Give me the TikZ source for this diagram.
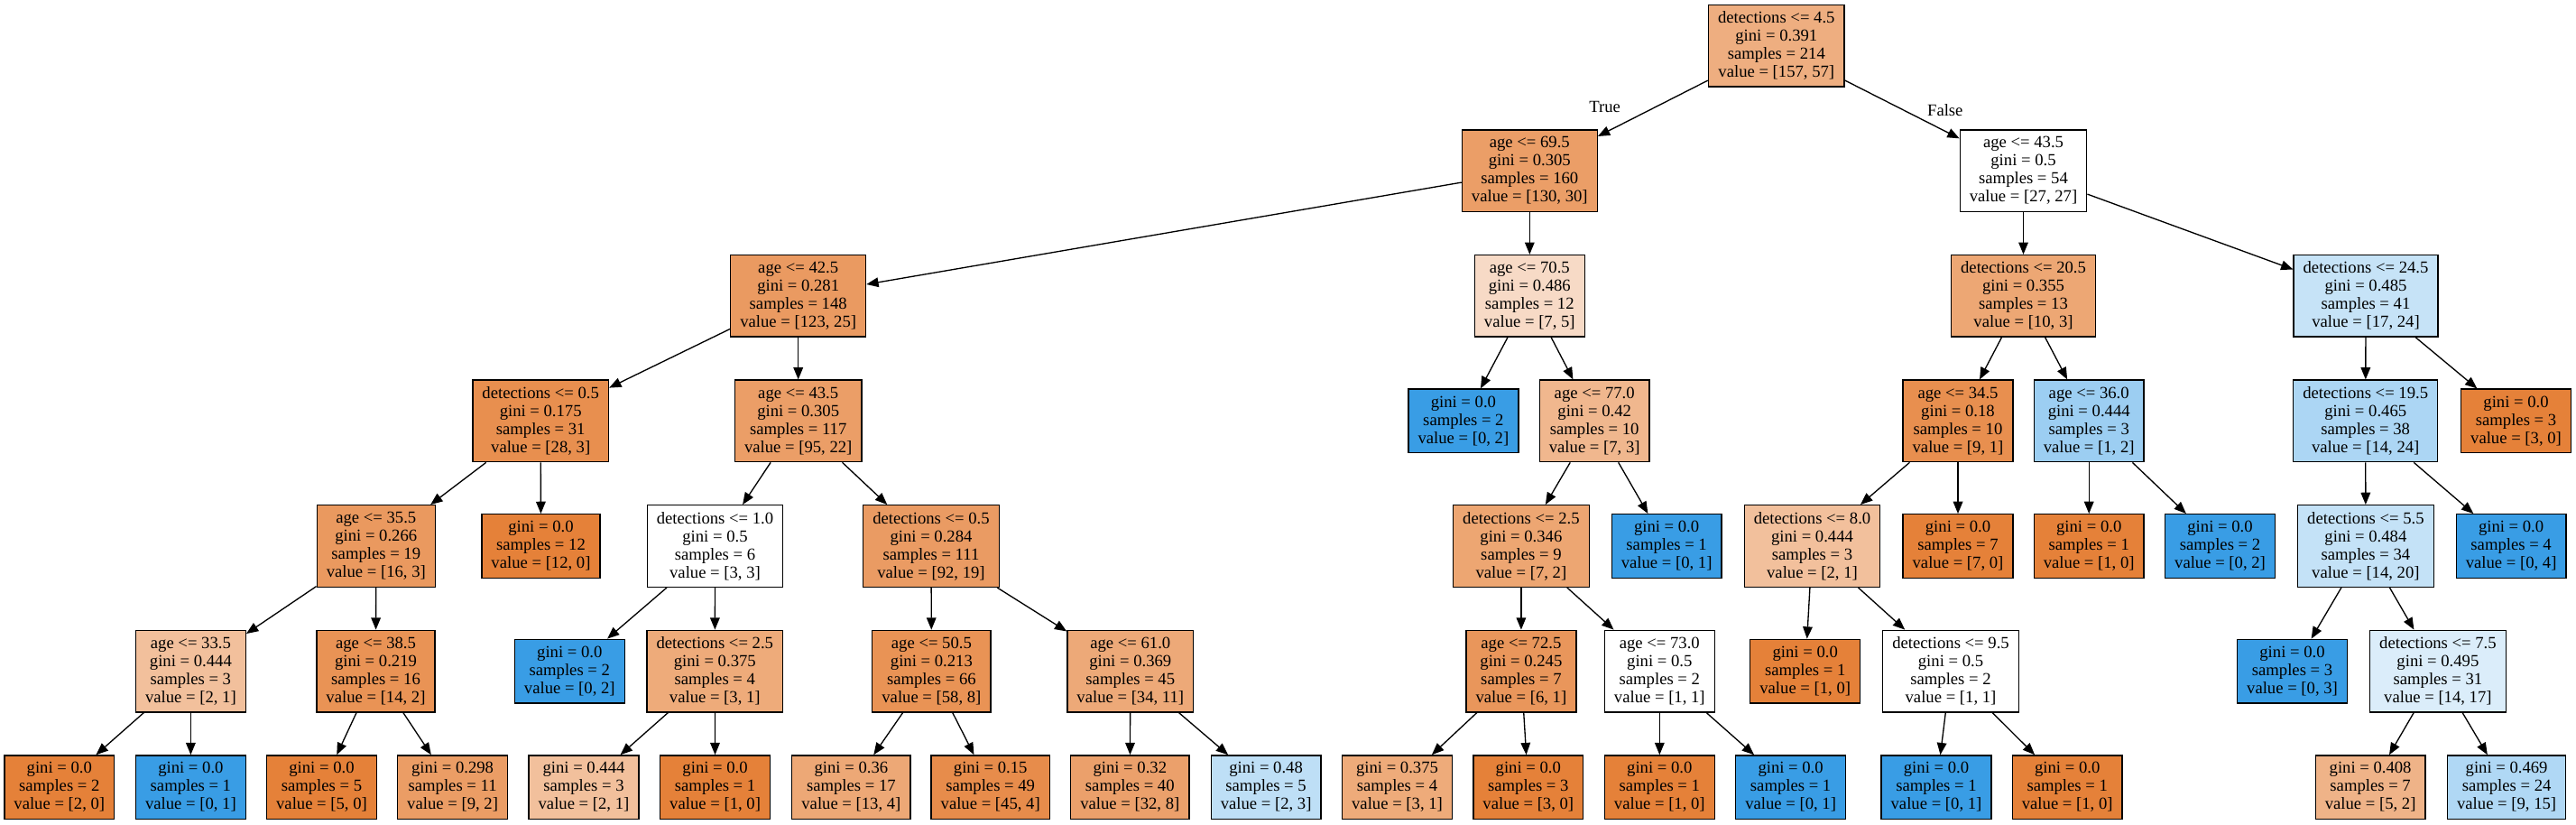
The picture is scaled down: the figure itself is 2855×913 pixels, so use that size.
\documentclass[tikz,border=0pt]{standalone}
\usepackage{fontspec}
\setmainfont{Liberation Serif}
\usetikzlibrary{arrows.meta}
\definecolor{orC}{RGB}{229,129,57}
\definecolor{blC}{RGB}{57,157,229}
\begin{document}
\begin{tikzpicture}[x=1pt,y=-1pt,
  tnode/.style={draw=black, line width=1.33pt, rectangle, align=center,
    inner xsep=10.56pt, inner ysep=0pt, font=\fontsize{18.67}{20}\selectfont},
  split/.style={tnode, minimum height=90.6pt},
  leaf/.style={tnode, minimum height=70.6pt},
  conn/.style={line width=1.33pt, -{Triangle[length=13.3pt,width=10.6pt]}},
  lbl/.style={font=\fontsize{18.67}{20}\selectfont, inner sep=0pt}
]
\fill[white] (0,0) rectangle (2855,913);
\useasboundingbox (0,0) rectangle (2855,913);
% level 0
\node[split, fill=orC!64!white] (n0) at (1968.8,50.6) {detections <= 4.5\\gini = 0.391\\samples = 214\\value = [157, 57]};
% level 1
\node[split, fill=orC!77!white] (n1) at (1695.3,189.2) {age <= 69.5\\gini = 0.305\\samples = 160\\value = [130, 30]};
\node[split, fill=white] (n2) at (2242.5,189.2) {age <= 43.5\\gini = 0.5\\samples = 54\\value = [27, 27]};
% level 2
\node[split, fill=orC!80!white] (n3) at (884.7,327.8) {age <= 42.5\\gini = 0.281\\samples = 148\\value = [123, 25]};
\node[split, fill=orC!29!white] (n4) at (1695.3,327.8) {age <= 70.5\\gini = 0.486\\samples = 12\\value = [7, 5]};
\node[split, fill=orC!70!white] (n5) at (2242.5,327.8) {detections <= 20.5\\gini = 0.355\\samples = 13\\value = [10, 3]};
\node[split, fill=blC!29!white] (n6) at (2622,327.8) {detections <= 24.5\\gini = 0.485\\samples = 41\\value = [17, 24]};
% level 3
\node[split, fill=orC!89!white] (n7) at (599.2,466.4) {detections <= 0.5\\gini = 0.175\\samples = 31\\value = [28, 3]};
\node[split, fill=orC!77!white] (n8) at (884.7,466.4) {age <= 43.5\\gini = 0.305\\samples = 117\\value = [95, 22]};
\node[leaf, fill=blC] (n9) at (1621.9,466.4) {gini = 0.0\\samples = 2\\value = [0, 2]};
\node[split, fill=orC!57!white] (n10) at (1767.2,466.4) {age <= 77.0\\gini = 0.42\\samples = 10\\value = [7, 3]};
\node[split, fill=orC!89!white] (n11) at (2170,466.4) {age <= 34.5\\gini = 0.18\\samples = 10\\value = [9, 1]};
\node[split, fill=blC!50!white] (n12) at (2315.2,466.4) {age <= 36.0\\gini = 0.444\\samples = 3\\value = [1, 2]};
\node[split, fill=blC!42!white] (n13) at (2621.7,466.4) {detections <= 19.5\\gini = 0.465\\samples = 38\\value = [14, 24]};
\node[leaf, fill=orC] (n14) at (2788.5,466.4) {gini = 0.0\\samples = 3\\value = [3, 0]};
% level 4
\node[split, fill=orC!81!white] (n15) at (416.8,605) {age <= 35.5\\gini = 0.266\\samples = 19\\value = [16, 3]};
\node[leaf, fill=orC] (n16) at (599.5,605) {gini = 0.0\\samples = 12\\value = [12, 0]};
\node[split, fill=white] (n17) at (792.5,605) {detections <= 1.0\\gini = 0.5\\samples = 6\\value = [3, 3]};
\node[split, fill=orC!79!white] (n18) at (1032,605) {detections <= 0.5\\gini = 0.284\\samples = 111\\value = [92, 19]};
\node[split, fill=orC!71!white] (n19) at (1685.9,605) {detections <= 2.5\\gini = 0.346\\samples = 9\\value = [7, 2]};
\node[leaf, fill=blC] (n20) at (1847.1,605) {gini = 0.0\\samples = 1\\value = [0, 1]};
\node[split, fill=orC!50!white] (n21) at (2008.5,605) {detections <= 8.0\\gini = 0.444\\samples = 3\\value = [2, 1]};
\node[leaf, fill=orC] (n22) at (2170,605) {gini = 0.0\\samples = 7\\value = [7, 0]};
\node[leaf, fill=orC] (n23) at (2315.2,605) {gini = 0.0\\samples = 1\\value = [1, 0]};
\node[leaf, fill=blC] (n24) at (2460.5,605) {gini = 0.0\\samples = 2\\value = [0, 2]};
\node[split, fill=blC!30!white] (n25) at (2621.9,605) {detections <= 5.5\\gini = 0.484\\samples = 34\\value = [14, 20]};
\node[leaf, fill=blC] (n26) at (2783.1,605) {gini = 0.0\\samples = 4\\value = [0, 4]};
% level 5
\node[split, fill=orC!50!white] (n27) at (211.4,743.6) {age <= 33.5\\gini = 0.444\\samples = 3\\value = [2, 1]};
\node[split, fill=orC!86!white] (n28) at (416.5,743.6) {age <= 38.5\\gini = 0.219\\samples = 16\\value = [14, 2]};
\node[leaf, fill=blC] (n29) at (631.3,743.6) {gini = 0.0\\samples = 2\\value = [0, 2]};
\node[split, fill=orC!67!white] (n30) at (792.3,743.6) {detections <= 2.5\\gini = 0.375\\samples = 4\\value = [3, 1]};
\node[split, fill=orC!86!white] (n31) at (1032.4,743.6) {age <= 50.5\\gini = 0.213\\samples = 66\\value = [58, 8]};
\node[split, fill=orC!68!white] (n32) at (1252.8,743.6) {age <= 61.0\\gini = 0.369\\samples = 45\\value = [34, 11]};
\node[split, fill=orC!83!white] (n33) at (1685.9,743.6) {age <= 72.5\\gini = 0.245\\samples = 7\\value = [6, 1]};
\node[split, fill=white] (n34) at (1839.3,743.6) {age <= 73.0\\gini = 0.5\\samples = 2\\value = [1, 1]};
\node[leaf, fill=orC] (n35) at (2000.7,743.6) {gini = 0.0\\samples = 1\\value = [1, 0]};
\node[split, fill=white] (n36) at (2162,743.6) {detections <= 9.5\\gini = 0.5\\samples = 2\\value = [1, 1]};
\node[leaf, fill=blC] (n37) at (2540.5,743.6) {gini = 0.0\\samples = 3\\value = [0, 3]};
\node[split, fill=blC!18!white] (n38) at (2701.9,743.6) {detections <= 7.5\\gini = 0.495\\samples = 31\\value = [14, 17]};
% level 6
\node[leaf, fill=orC] (n39) at (65.8,872.2) {gini = 0.0\\samples = 2\\value = [2, 0]};
\node[leaf, fill=blC] (n40) at (211.4,872.2) {gini = 0.0\\samples = 1\\value = [0, 1]};
\node[leaf, fill=orC] (n41) at (356.5,872.2) {gini = 0.0\\samples = 5\\value = [5, 0]};
\node[leaf, fill=orC!78!white] (n42) at (501.6,872.2) {gini = 0.298\\samples = 11\\value = [9, 2]};
\node[leaf, fill=orC!50!white] (n43) at (647,872.2) {gini = 0.444\\samples = 3\\value = [2, 1]};
\node[leaf, fill=orC] (n44) at (792.6,872.2) {gini = 0.0\\samples = 1\\value = [1, 0]};
\node[leaf, fill=orC!69!white] (n45) at (943.4,872.2) {gini = 0.36\\samples = 17\\value = [13, 4]};
\node[leaf, fill=orC!91!white] (n46) at (1097.7,872.2) {gini = 0.15\\samples = 49\\value = [45, 4]};
\node[leaf, fill=orC!75!white] (n47) at (1252.3,872.2) {gini = 0.32\\samples = 40\\value = [32, 8]};
\node[leaf, fill=blC!33!white] (n48) at (1403.1,872.2) {gini = 0.48\\samples = 5\\value = [2, 3]};
\node[leaf, fill=orC!67!white] (n49) at (1548.5,872.2) {gini = 0.375\\samples = 4\\value = [3, 1]};
\node[leaf, fill=orC] (n50) at (1693.8,872.2) {gini = 0.0\\samples = 3\\value = [3, 0]};
\node[leaf, fill=orC] (n51) at (1839.3,872.2) {gini = 0.0\\samples = 1\\value = [1, 0]};
\node[leaf, fill=blC] (n52) at (1984.6,872.2) {gini = 0.0\\samples = 1\\value = [0, 1]};
\node[leaf, fill=blC] (n53) at (2146,872.2) {gini = 0.0\\samples = 1\\value = [0, 1]};
\node[leaf, fill=orC] (n54) at (2291.2,872.2) {gini = 0.0\\samples = 1\\value = [1, 0]};
\node[leaf, fill=orC!60!white] (n55) at (2627.1,872.2) {gini = 0.408\\samples = 7\\value = [5, 2]};
\node[leaf, fill=blC!40!white] (n56) at (2778.1,872.2) {gini = 0.469\\samples = 24\\value = [9, 15]};
% edges
\foreach \a/\b in {n0/n1,n0/n2,n1/n3,n1/n4,n2/n5,n2/n6,n3/n7,n3/n8,n4/n9,n4/n10,
  n5/n11,n5/n12,n6/n13,n6/n14,n7/n15,n7/n16,n8/n17,n8/n18,n10/n19,n10/n20,
  n11/n21,n11/n22,n12/n23,n12/n24,n13/n25,n13/n26,n15/n27,n15/n28,n17/n29,n17/n30,
  n18/n31,n18/n32,n19/n33,n19/n34,n21/n35,n21/n36,n25/n37,n25/n38,n27/n39,n27/n40,
  n28/n41,n28/n42,n30/n43,n30/n44,n31/n45,n31/n46,n32/n47,n32/n48,n33/n49,n33/n50,
  n34/n51,n34/n52,n36/n53,n36/n54,n38/n55,n38/n56}
  {\draw[conn] (\a) -- (\b);}
\node[lbl] (tTrue) at (1778.6,118.3) {True};
\node[lbl] (tFalse) at (2155.8,121.7) {False};
\end{tikzpicture}
\end{document}
